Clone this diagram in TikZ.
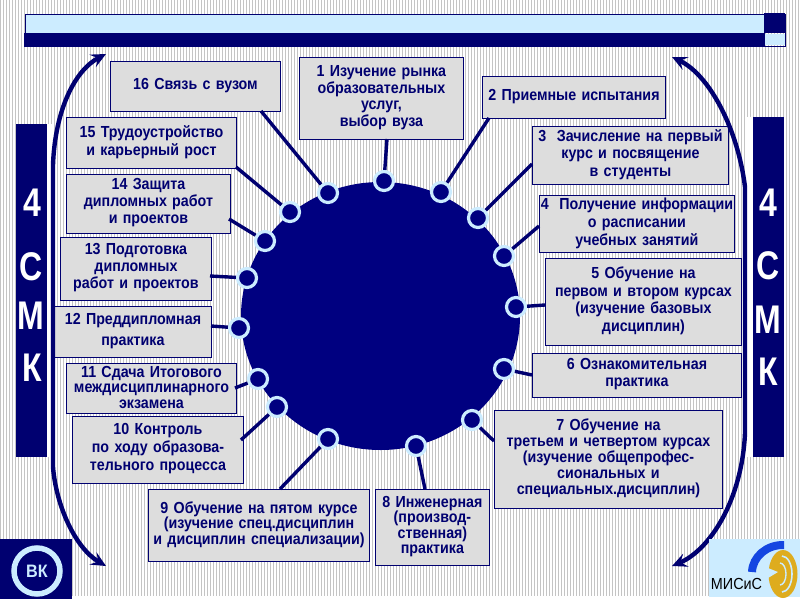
\documentclass[tikz,border=0pt]{standalone}
\usepackage{fontspec}
\setmainfont[FakeStretch=0.89]{Liberation Sans}
\newfontfamily\plainf[FakeStretch=0.9]{Liberation Sans}
\newfontfamily\sidef[FakeStretch=0.8]{Liberation Sans}
\usetikzlibrary{arrows.meta,shapes.geometric}
\definecolor{navy}{RGB}{0,0,112}
\definecolor{hubc}{RGB}{0,0,128}
\definecolor{pale}{RGB}{204,236,255}
\definecolor{boxg}{RGB}{221,221,221}
\definecolor{stripe}{RGB}{196,196,196}
\definecolor{gold}{RGB}{222,172,30}
\definecolor{arcblue}{RGB}{20,70,225}
\tikzset{
 lbl/.style={draw=navy,line width=0.9pt,fill=boxg,text=navy,align=center,inner sep=0pt,anchor=north west},
 dotn/.style={circle,draw=pale,line width=3.2pt,fill=hubc,minimum size=19pt,inner sep=0pt},
 conn/.style={draw=navy,line width=3.4pt},
 side/.style={fill=navy,draw=none},
 sideletter/.style={text=white,font=\sidef\bfseries\fontsize{40}{40}\selectfont,inner sep=0pt},
 bigarrow/.style={draw=navy,line width=4.4pt,-{Stealth[length=15pt,width=14pt,inset=6pt]}}
}
\newcommand{\labelbox}[7]{% name x0 y0 x1 y1 leading text
 \node[lbl,font=\bfseries\fontsize{16}{#6}\selectfont,minimum width={(#4-#2)*1pt},minimum height={(#5-#3)*1pt},text width={(#4-#2)*1pt}] (#1) at (#2,#3) {#7\par\vspace{2pt}};}
\begin{document}
\begin{tikzpicture}[x=1pt,y=-1pt]
\useasboundingbox (0,0) rectangle (800,600);
\fill[white] (0,0) rectangle (800,600);
\foreach \i in {0,3,...,798} {\fill[stripe] (\i,0) rectangle (\i+1.3,596);}
% title bar
\fill[pale] (25,14) rectangle (764,33);
\draw[navy,line width=0.8pt] (25,14) rectangle (785,46);
\fill[navy] (24,33) rectangle (765,47);
\fill[navy] (764,13) rectangle (785,33);
\fill[pale] (765,33.5) rectangle (784.5,45);
% side bars
\fill[white] (47,124) rectangle (53,457);
\fill[white] (746,117) rectangle (753,457);
\fill[side] (16,124) rectangle (47,457);
\fill[side] (753,117) rectangle (784,457);
\foreach \n/\x/\y/\t in {a/32/203/4,b/31.5/267/С,c/31/316/М,d/32/368/К} \node[sideletter] (L\n) at (\x,\y) {\t};
\foreach \n/\x/\y/\t in {a/768/203/4,b/768/266/С,c/768/320/М,d/768/372/К} \node[sideletter] (R\n) at (\x,\y) {\t};
% main disc
\node[ellipse,fill=hubc,minimum width=279pt,minimum height=268pt,inner sep=0pt] (hub) at (380.5,316) {};
% boxes
\labelbox{b1}{299}{57}{463}{139}{16.5}{1 Изучение рынка\\образовательных\\услуг,\\выбор вуза}
\labelbox{b2}{482}{76}{665}{118}{16.5}{2 Приемные испытания}
\labelbox{b3}{532}{126}{728}{184}{17.5}{3\ \ Зачисление на первый\\курс и посвящение\\в студенты}
\labelbox{b4}{539}{195}{734}{252}{18}{4\ \ Получение информации\\о расписании\\учебных занятий}
\labelbox{b5}{545}{258}{741}{345}{17.5}{5 Обучение на\\первом и втором курсах\\(изучение базовых\\дисциплин)}
\labelbox{b6}{532}{353}{741}{397}{17}{6 Ознакомительная\\практика}
\labelbox{b7}{494}{410}{722}{508}{16}{7 Обучение на\\третьем и четвертом курсах\\(изучение общепрофес-\\сиональных и\\специальных.дисциплин)}
\labelbox{b8}{375}{489}{489}{565}{15.5}{8 Инженерная\\(производ-\\ственная)\\практика}
\labelbox{b9}{148}{489}{369}{561}{15.5}{9 Обучение на пятом курсе\\(изучение спец.дисциплин\\и дисциплин специализации)}
\labelbox{b10}{72}{416}{243}{483}{18}{10 Контроль\\по ходу образова-\\тельного процесса}
\labelbox{b11}{66}{363}{236}{413}{15.5}{11 Сдача Итогового\\междисциплинарного\\экзамена}
\labelbox{b12}{54}{306}{211}{357}{19}{\vspace{2pt}12 Преддипломная\\практика}
\labelbox{b13}{60}{237}{211}{300}{17}{13 Подготовка\\дипломных\\работ и проектов}
\labelbox{b14}{66}{174}{230}{233}{17}{14 Защита\\дипломных работ\\и проектов}
\labelbox{b15}{66}{117}{236}{168}{18}{15 Трудоустройство\\и карьерный рост}
\labelbox{b16}{110}{61}{280}{111}{16.5}{16 Связь с вузом}
% connector ends on the box edges
\coordinate (c1) at (387,139);\coordinate (c2) at (489,118);\coordinate (c3) at (532,164);\coordinate (c4) at (539,226);
\coordinate (c5) at (545,305);\coordinate (c6) at (532,375);\coordinate (c7) at (494,441);\coordinate (c8) at (425,489);
\coordinate (c9) at (280,489);\coordinate (c10) at (241,440);\coordinate (c11) at (235,388);\coordinate (c12) at (211,326);
\coordinate (c13) at (210,276);\coordinate (c14) at (229,219);\coordinate (c15) at (236,167);\coordinate (c16) at (261,111);
% dots
\foreach \n/\x/\y in {d1/384/181,d2/441/192,d3/478/218,d4/504/256,d5/516/307,d6/504/369,d7/472/420,d8/416/446,d9/328/439,d10/277/407,d11/258/379,d12/239/328,d13/247/278,d14/265/241,d15/290/212,d16/328/193}
 \node[dotn] (\n) at (\x,\y) {};
\foreach \i in {1,...,16} \draw[conn] (c\i) -- (d\i);
% arrows
\coordinate (a1) at (53,300);\coordinate (a2) at (106,54);\coordinate (a3) at (106,566);
\coordinate (a4) at (745,300);\coordinate (a5) at (672,57);\coordinate (a6) at (672,566);
\draw[bigarrow] (a1) -- (53,165) .. controls (55,110) and (75,70) .. (a2);
\draw[bigarrow] (a1) -- (53,467) .. controls (56,505) and (75,548) .. (a3);
\draw[bigarrow] (a4) -- (745,187) .. controls (738,130) and (710,75) .. (a5);
\draw[bigarrow] (a4) -- (745,433) .. controls (742,500) and (710,550) .. (a6);
% VK logo
\fill[navy] (0,539) rectangle (72,599);
\node[circle,draw=pale,line width=5.5pt,fill=navy,minimum size=46pt,inner sep=0pt,text=pale,font=\plainf\bfseries\fontsize{18}{18}\selectfont] (vk) at (37,571) {ВК};
% MISiS logo
\fill[pale] (709,539) rectangle (800,597);
\fill[gold] (783,574) ellipse (14.5 and 24);
\draw[pale,line width=1.6pt] (782,556) arc (-90:90:10 and 18);
\draw[pale,line width=1.4pt] (780,563) arc (-90:90:6 and 11);
\fill[pale] (768,568) -- (778,572) -- (768,578) -- cycle;
\draw[arcblue,line width=8pt] (752,572) arc (182:272:31 and 28);
\node[font=\plainf\fontsize{16}{16}\selectfont,text=black,inner sep=0pt] (mis) at (736.5,584) {МИСиС};
\end{tikzpicture}
\end{document}
